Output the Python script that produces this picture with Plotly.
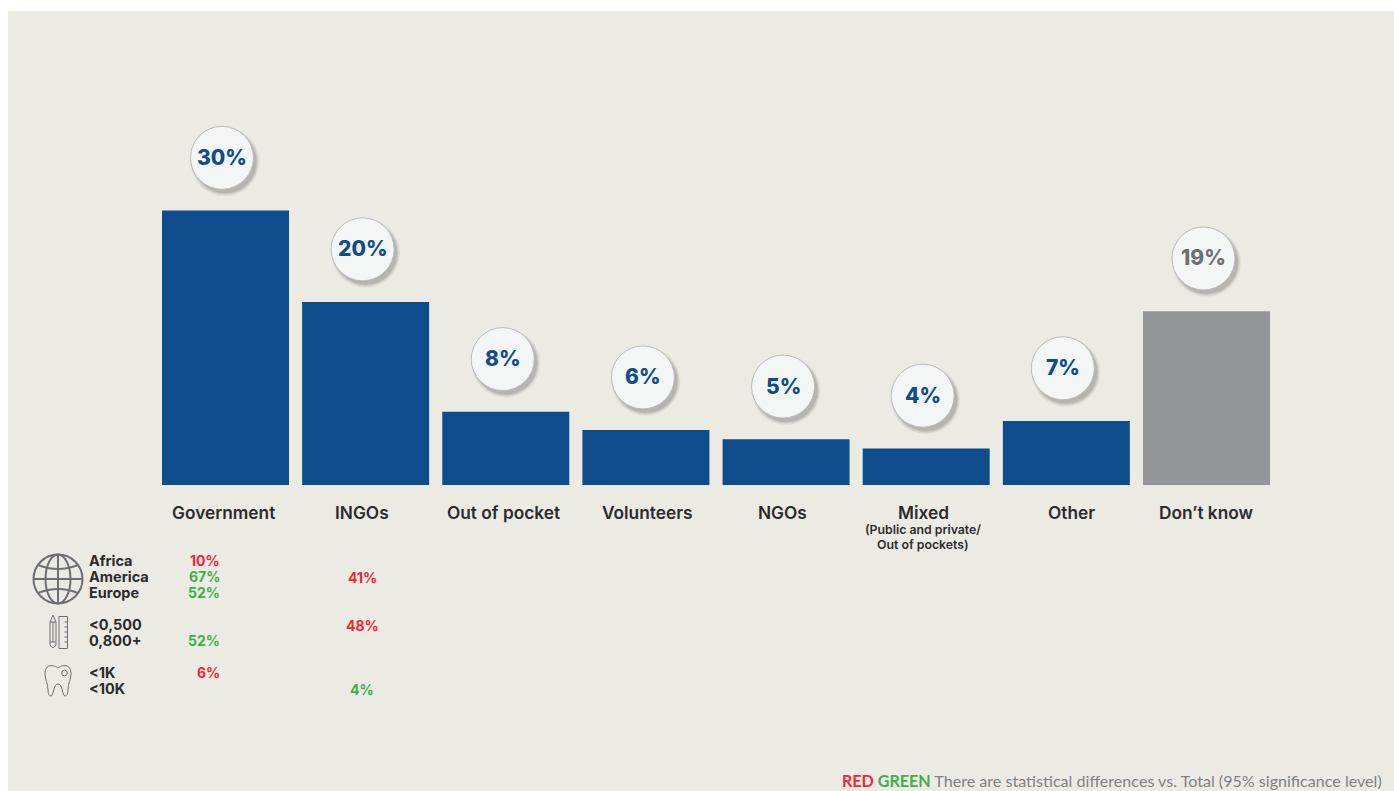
import plotly.graph_objects as go

# Chart data
categories = ["Government", "INGOs", "Out of pocket", "Volunteers", "NGOs", "Mixed", "Other", "Don’t know"]
values = [30, 20, 8, 6, 5, 4, 7, 19]
row_labels = ["Africa", "America", "Europe", "<0,500", "0,800+", "<1K", "<10K"]
government_cuts = ["10%", "67%", "52%", None, "52%", "6%", None]
ingo_cuts = [None, "41%", None, "48%", None, None, "4%"]
cut_colours = {"10%": "red", "67%": "green", "52%": "green", "6%": "red", "41%": "red", "48%": "red", "4%": "green"}

# Palette
PANEL = "#ECEBE3"
BLUE = "#0E4C8B"
GREY_BAR = "#949599"
GREY_TEXT = "#6D6E71"
INK = "#2B2B2B"
RED = "#EE2737"
GREEN = "#3FAE49"
BOLD_FONT = "Inter"
BODY_FONT = "Lato"

W, H = 1394, 791
PITCH = 140.14
FIRST_CENTRE = 225.5
BASELINE = 485
PX_PER_UNIT = 9.15


def fx(px):
    return px / W


def fy(py):
    return 1 - py / H


bar_colours = [GREY_BAR if c == "Don’t know" else BLUE for c in categories]

fig = go.Figure(
    go.Bar(
        x=categories,
        y=values,
        marker=dict(color=bar_colours, line=dict(width=0)),
        hoverinfo="x+y",
    )
)

shapes = [
    dict(type="rect", xref="paper", yref="paper", x0=fx(8), x1=1, y0=0, y1=fy(11),
         fillcolor=PANEL, line=dict(width=0), layer="below")
]
annotations = []

# Value bubbles with a soft drop shadow, anchored on top of each bar
BUBBLE_LIFT = 52.7
BUBBLE_R = 31.5
bubble_shift = [-3.5, -3, -3, -3, -3, -3.5, -3.5, -3]
for cat, val, colour, dx in zip(categories, values, bar_colours, bubble_shift):
    cy = BUBBLE_LIFT
    for grow, alpha in [(3.0, 0.06), (2.0, 0.09), (1.0, 0.12), (0.0, 0.16)]:
        r = BUBBLE_R + grow
        shapes.append(dict(
            type="circle", xref="x", yref="y", xsizemode="pixel", ysizemode="pixel",
            xanchor=cat, yanchor=val,
            x0=dx + 3 - r, x1=dx + 3 + r, y0=cy - 4 - r, y1=cy - 4 + r,
            fillcolor=f"rgba(90,90,85,{alpha})", line=dict(width=0),
        ))
    shapes.append(dict(
        type="circle", xref="x", yref="y", xsizemode="pixel", ysizemode="pixel",
        xanchor=cat, yanchor=val,
        x0=dx - BUBBLE_R, x1=dx + BUBBLE_R, y0=cy - BUBBLE_R, y1=cy + BUBBLE_R,
        fillcolor="#F4F6F6", line=dict(color="#B9BABA", width=1),
    ))
    annotations.append(dict(
        x=cat, y=val, xref="x", yref="y", xshift=dx, yshift=cy + 0.5, showarrow=False,
        text=f"{val}%", xanchor="center", yanchor="middle",
        font=dict(family=BOLD_FONT, size=21, weight=800,
                  color=GREY_TEXT if colour == GREY_BAR else BLUE),
    ))


def label(text, x, y, anchor="left", size=15, colour=INK, weight=700, family=BOLD_FONT):
    annotations.append(dict(
        x=fx(x), y=fy(y), xref="paper", yref="paper", showarrow=False, text=text,
        xanchor=anchor, yanchor="middle",
        font=dict(family=family, size=size, weight=weight, color=colour),
    ))


# Category captions below the bars
caption_x = [224, 362, 503, 647, 782, 923, 1071, 1206]
for cat, x in zip(categories, caption_x):
    label(cat, x, 512, anchor="center", size=17.3, weight=600)
label("(Public and private/", 923, 529.5, anchor="center", size=12.3, weight=600)
label("Out of pockets)", 923, 544.5, anchor="center", size=12.3, weight=600)

# Breakdown rows in the lower-left corner
row_y = [561, 577, 593, 625, 641, 673, 689]
for name, y in zip(row_labels, row_y):
    label(name.replace("<", "&lt;"), 87, y - 1, size=14.5)
for cut, y in zip(government_cuts, row_y):
    if cut:
        colour = RED if cut_colours[cut] == "red" else GREEN
        label(cut, 221.5, y - 1, anchor="right", size=14, colour=colour)
for cut, y in zip(ingo_cuts, row_y):
    if cut:
        colour = RED if cut_colours[cut] == "red" else GREEN
        label(cut, 362, y + 0.5, anchor="center", size=14, colour=colour)

# Footnote
annotations.append(dict(
    x=fx(1384), y=fy(780.5), xref="paper", yref="paper", showarrow=False,
    xanchor="right", yanchor="middle",
    text=(f'<b><span style="color:{RED}">RED</span> <span style="color:{GREEN}">GREEN</span></b>'
          " There are statistical differences vs. Total (95% significance level)"),
    font=dict(family=BODY_FONT, size=16.1, color="#808184"),
))


# Line-art icons: each step is a command letter followed by one coordinate group
def path(points, colour=GREY_TEXT, width=1.0):
    parts = []
    for cmd, coords in points:
        xy = " ".join(f"{fx(coords[i]):.5f},{fy(coords[i + 1]):.5f}" for i in range(0, len(coords), 2))
        parts.append(f"{cmd}{xy}")
    return dict(type="path", xref="paper", yref="paper", path=" ".join(parts),
                line=dict(color=colour, width=width))


def ellipse(cx, cy, rx, ry, width=1.0, fill=None):
    return dict(type="circle", xref="paper", yref="paper",
                x0=fx(cx - rx), x1=fx(cx + rx), y0=fy(cy + ry), y1=fy(cy - ry),
                line=dict(color=GREY_TEXT, width=width), fillcolor=fill or "rgba(0,0,0,0)")


# Globe
shapes += [
    ellipse(58, 579, 24.5, 24.5, 2),
    ellipse(58, 579, 12.5, 24.5, 2),
    path([("M", [58, 554.5]), ("L", [58, 603.5])], width=2),
    path([("M", [33.5, 579]), ("L", [82.5, 579])], width=2),
    path([("M", [38, 565]), ("Q", [58, 573, 78, 565])], width=2),
    path([("M", [38, 593]), ("Q", [58, 585, 78, 593])], width=2),
]
# Pencil and ruler
shapes += [
    path([("M", [50, 622]), ("L", [53, 615]), ("L", [56, 622]), ("L", [56, 645]),
          ("Q", [53, 650, 50, 645]), ("L", [50, 622]),
          ("M", [50, 622]), ("L", [56, 622]),
          ("M", [53, 622]), ("L", [53, 642]),
          ("M", [50, 642]), ("L", [56, 642])]),
    path([("M", [59, 616.5]), ("L", [67.5, 616.5]), ("L", [67.5, 648.5]), ("L", [59, 648.5]), ("L", [59, 616.5]),
          ("M", [67.5, 622]), ("L", [64.5, 622]),
          ("M", [67.5, 627]), ("L", [64.5, 627]),
          ("M", [67.5, 632]), ("L", [64.5, 632]),
          ("M", [67.5, 637]), ("L", [64.5, 637]),
          ("M", [67.5, 642]), ("L", [64.5, 642])]),
]
# Tooth
shapes += [
    path([("M", [58, 668]),
          ("C", [54, 665, 45, 663, 45, 674]),
          ("C", [45, 680, 48, 683, 48, 690]),
          ("C", [48, 693, 49, 696, 51, 696]),
          ("C", [54, 696, 53, 684, 58, 684]),
          ("C", [63, 684, 62, 696, 65, 696]),
          ("C", [67, 696, 68, 693, 68, 690]),
          ("C", [68, 683, 71, 680, 71, 674]),
          ("C", [71, 663, 62, 665, 58, 668])]),
    ellipse(64.5, 673, 2.8, 2.8),
]

# Axis ranges place each category and the zero line at fixed pixels
x_start = -FIRST_CENTRE / PITCH
fig.update_layout(
    width=W, height=H,
    margin=dict(l=0, r=0, t=0, b=0),
    paper_bgcolor="#FFFFFF",
    plot_bgcolor="rgba(0,0,0,0)",
    bargap=1 - 127 / PITCH,
    showlegend=False,
    shapes=shapes,
    annotations=annotations,
    xaxis=dict(type="category", categoryorder="array", categoryarray=categories,
               range=[x_start, x_start + W / PITCH], visible=False, fixedrange=True),
    yaxis=dict(range=[-(H - BASELINE) / PX_PER_UNIT, BASELINE / PX_PER_UNIT],
               visible=False, fixedrange=True),
)

fig.write_html("out.html")
